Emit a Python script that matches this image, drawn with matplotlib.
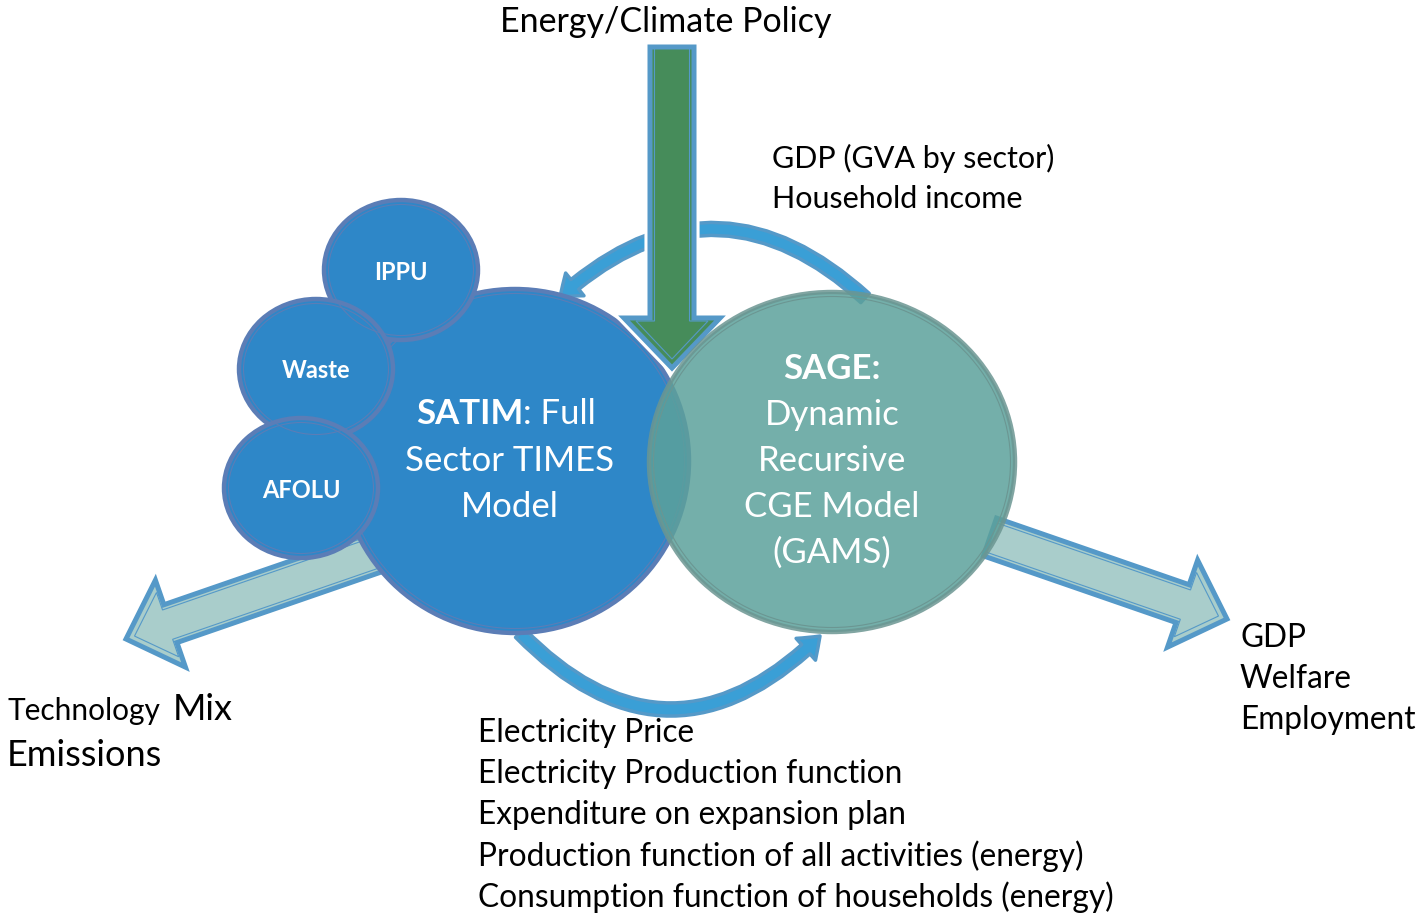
import matplotlib.pyplot as plt
import matplotlib.patheffects as pe
from matplotlib.patches import Ellipse, FancyArrow, FancyArrowPatch

plt.rcParams['font.family'] = ['Lato', 'DejaVu Sans']

# text content of the diagram
policy_label = 'Energy/Climate Policy'
sector_nodes = ['IPPU', 'Waste', 'AFOLU']
satim_title = ['SATIM', ': Full']
satim_lines = ['Sector TIMES', 'Model']
sage_title = 'SAGE:'
sage_lines = ['Dynamic', 'Recursive', 'CGE Model', '(GAMS)']
top_links = ['GDP (GVA by sector)', 'Household income']
bottom_links = ['Electricity Price',
                'Electricity Production function',
                'Expenditure on expansion plan',
                'Production function of all activities (energy)',
                'Consumption function of households (energy)']
left_outputs = ['Technology', 'Mix', 'Emissions']
right_outputs = ['GDP', 'Welfare', 'Employment']

# layout (pixel space, y pointing down)
W, H = 1416, 914
satim_c, satim_r = (515, 461), (174, 172)
sage_c, sage_r = (832, 462), (183, 170)
sector_c = [(401, 270), (316, 369), (301, 488)]
sector_r = (77, 70)

BLUE = '#2E87C8'
BLUE_EDGE = '#5B7DB6'
TEAL = '#5CA19B'
TEAL_EDGE = '#6B9692'
GREEN = '#468C5A'
ARROW_EDGE = '#5599C8'
ARROW_FILL = '#A9CDCB'
CURVE_FILL = '#3A9FD6'

fig = plt.figure(figsize=(W / 100, H / 100), dpi=100)
ax = fig.add_axes([0, 0, 1, 1])
ax.set_xlim(0, W)
ax.set_ylim(H, 0)
ax.axis('off')


def circle(c, r, face, edge, z, alpha=1.0):
    ax.add_patch(Ellipse(c, 2 * r[0], 2 * r[1], facecolor=face, edgecolor=edge,
                         lw=3.2, alpha=alpha, zorder=z))
    ax.add_patch(Ellipse(c, 2 * r[0] - 9, 2 * r[1] - 9, facecolor='none',
                         edgecolor=edge, lw=0.8, zorder=z + 0.01))


def block_arrow(x0, y0, x1, y1, width, hw, hl, face, z, halo=False):
    dx, dy = x1 - x0, y1 - y0
    a = FancyArrow(x0, y0, dx, dy, width=width, head_width=hw, head_length=hl,
                   length_includes_head=True, facecolor=face,
                   edgecolor=ARROW_EDGE, lw=3.6, zorder=z)
    if halo:
        a.set_path_effects([pe.withStroke(linewidth=8, foreground='white')])
    ax.add_patch(a)
    # inner thin outline
    n = (dx ** 2 + dy ** 2) ** 0.5
    ux, uy = dx / n, dy / n
    ax.add_patch(FancyArrow(x0, y0, dx - 9 * ux, dy - 9 * uy, width=width - 9,
                            head_width=hw - 24, head_length=hl - 12,
                            length_includes_head=True, facecolor='none',
                            edgecolor=ARROW_EDGE, lw=0.8, zorder=z + 0.01))


def curved_arrow(a, b, rad, z):
    style = 'simple,tail_width=9,head_width=21,head_length=14'
    ax.add_patch(FancyArrowPatch(a, b, connectionstyle=f'arc3,rad={rad}',
                                 arrowstyle=style, mutation_scale=1,
                                 shrinkA=0, shrinkB=0, facecolor=CURVE_FILL,
                                 edgecolor=ARROW_EDGE, lw=2.5, zorder=z))


# output arrows
block_arrow(375, 553, 126, 639, 40, 92, 47, ARROW_FILL, 1)
block_arrow(990, 537, 1227, 619, 40, 92, 47, ARROW_FILL, 1)

# feedback loops
curved_arrow((865, 298), (560, 297), 0.45, 1.5)
curved_arrow((520, 633), (820, 636), 0.5, 1.5)

# SATIM and its sector modules
circle(satim_c, satim_r, BLUE, BLUE_EDGE, 2)
for c in sector_c:
    circle(c, sector_r, BLUE, BLUE_EDGE, 3)

# policy arrow
block_arrow(672, 47, 672, 368, 44, 96, 50, GREEN, 4, halo=True)

# SAGE
circle(sage_c, sage_r, TEAL, TEAL_EDGE, 5, alpha=0.85)

# texts
ax.text(666, 22, policy_label, fontsize=24.5, ha='center', va='center', zorder=10)
for i, s in enumerate(top_links):
    ax.text(772, 158 + 41 * i, s, fontsize=22, ha='left', va='center', zorder=10)
for i, s in enumerate(bottom_links):
    ax.text(478, 733 + 41 * i, s, fontsize=22.8, ha='left', va='center', zorder=10)
for i, s in enumerate(right_outputs):
    ax.text(1240, 638 + 41 * i, s, fontsize=22.8, ha='left', va='center', zorder=10)

ax.text(7, 711, left_outputs[0], fontsize=21.5, ha='left', va='center', zorder=10)
ax.text(173, 709, left_outputs[1], fontsize=26, ha='left', va='center', zorder=10)
ax.text(7, 755, left_outputs[2], fontsize=26, ha='left', va='center', zorder=10)

for s, c in zip(sector_nodes, sector_c):
    ax.text(c[0], c[1] + 2, s, fontsize=17, fontweight='bold', color='white',
            ha='center', va='center', zorder=10)

ax.text(523, 414, satim_title[0], fontsize=25, fontweight='bold', color='white',
        ha='right', va='center', zorder=10)
ax.text(523, 414, satim_title[1], fontsize=25, color='white',
        ha='left', va='center', zorder=10)
for i, s in enumerate(satim_lines):
    ax.text(510, 461 + 46 * i, s, fontsize=25, color='white',
            ha='center', va='center', zorder=10)

ax.text(832, 369, sage_title, fontsize=25, fontweight='bold', color='white',
        ha='center', va='center', zorder=10)
for i, s in enumerate(sage_lines):
    ax.text(832, 415 + 46 * i, s, fontsize=25, color='white',
            ha='center', va='center', zorder=10)

plt.savefig('out.png', dpi=100)
